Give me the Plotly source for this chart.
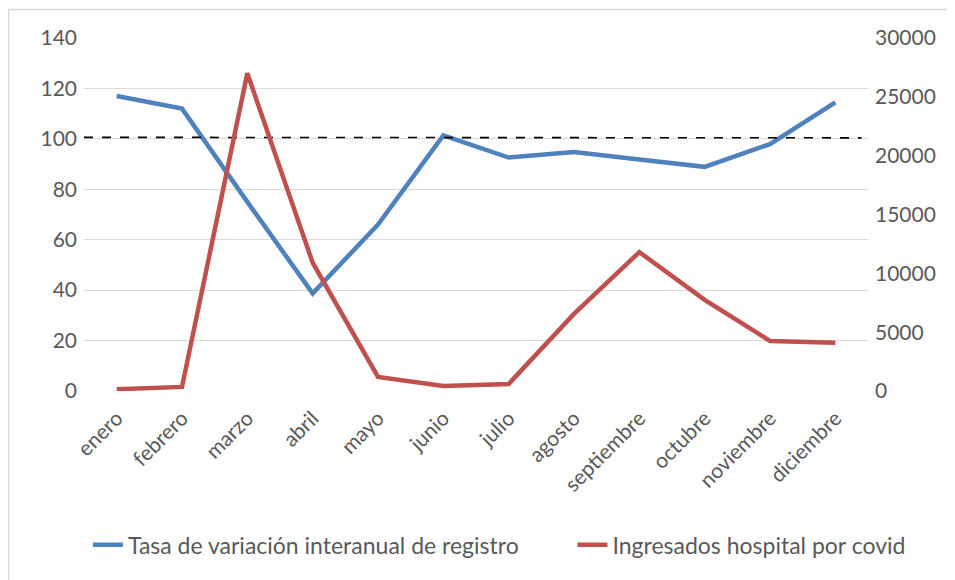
import plotly.graph_objects as go

months = ["enero", "febrero", "marzo", "abril", "mayo", "junio", "julio",
          "agosto", "septiembre", "octubre", "noviembre", "diciembre"]
tasa = [117, 112, 75, 38.7, 66, 101.4, 92.6, 94.8, 91.8, 88.9, 97.9, 114.5]
ingresados = [150, 350, 27000, 10900, 1200, 430, 600, 6550, 11800, 7750, 4250, 4100]
ref_x = [-0.5, 11.4]
ref_y = [100.6, 100.4]

x = list(range(len(months)))
font = "Lato, Open Sans, sans-serif"
grey = "#595959"

fig = go.Figure()
fig.add_trace(go.Scatter(x=x, y=tasa, mode="lines", name="Tasa de variación interanual de registro",
                         line=dict(color="#4f81bd", width=4.5), legend="legend"))
fig.add_trace(go.Scatter(x=x, y=ingresados, mode="lines", name="Ingresados hospital por covid",
                         line=dict(color="#c0504d", width=4.5), yaxis="y2", legend="legend2"))
fig.add_trace(go.Scatter(x=ref_x, y=ref_y, mode="lines", showlegend=False,
                         line=dict(color="black", width=1.6, dash="dash")))

leg_common = dict(orientation="h", y=-0.436, yanchor="middle", xanchor="left",
                  font=dict(size=23, color=grey), bgcolor="rgba(0,0,0,0)")

fig.update_layout(
    width=947, height=572,
    margin=dict(l=76, r=87, t=30, b=189),
    paper_bgcolor="white", plot_bgcolor="white",
    font=dict(family=font, size=21, color=grey),
    xaxis=dict(range=[-0.5, 11.5], tickvals=x, ticktext=months, tickangle=-45,
               showgrid=False, zeroline=False, showline=False, ticks="",
               ticklabelstandoff=10, automargin=False,
               tickfont=dict(size=21, color=grey)),
    yaxis=dict(range=[0, 140], dtick=20, showgrid=True, gridcolor="#d9d9d9", gridwidth=1.3,
               zeroline=False, showline=False, ticks="", automargin=False,
               ticklabelstandoff=6,
               tickfont=dict(size=21, color=grey)),
    yaxis2=dict(range=[0, 30000], dtick=5000, overlaying="y", side="right",
                tickformat="d", automargin=False, ticklabelstandoff=6,
                showgrid=False, zeroline=False, showline=False,
                tickfont=dict(size=21, color=grey)),
    legend=dict(x=0.005, **leg_common),
    legend2=dict(x=0.623, **leg_common),
    shapes=[dict(type="rect", xref="paper", yref="paper",
                 x0=-0.0963, x1=1.3, y0=-0.7, y1=1.081,
                 line=dict(color="#d9d9d9", width=1.5), layer="below")],
    showlegend=True,
)

fig.write_html("out.html")
